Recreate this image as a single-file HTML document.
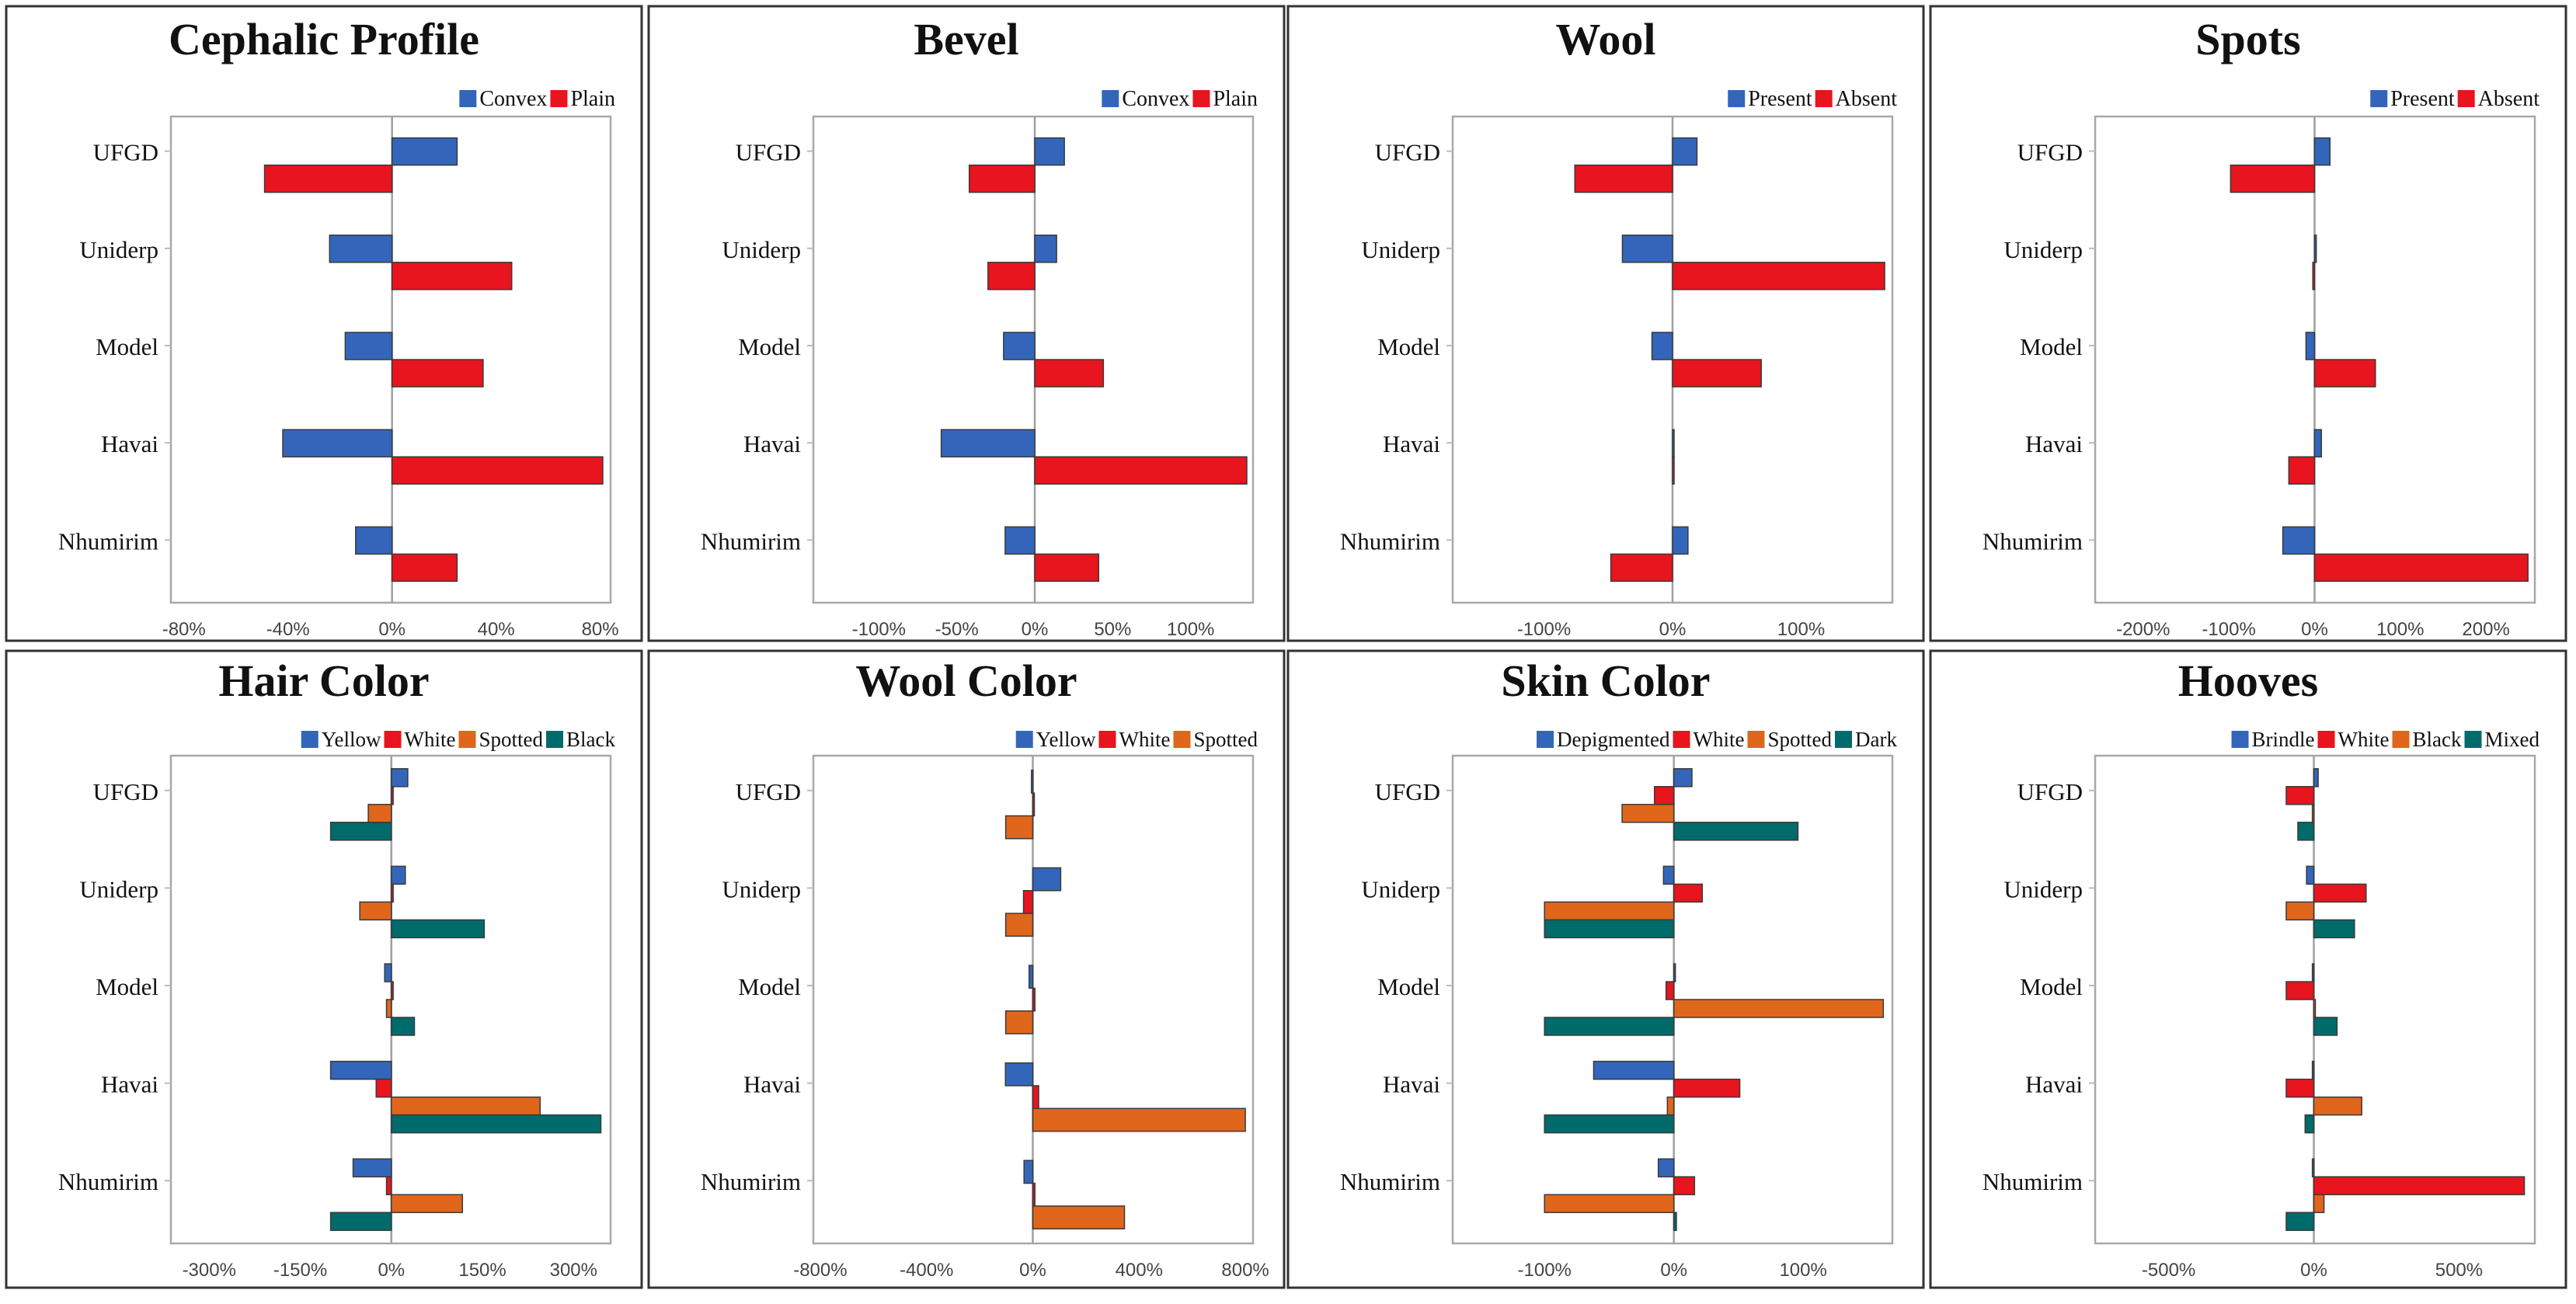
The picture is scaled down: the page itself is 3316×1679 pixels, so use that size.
<!DOCTYPE html>
<html><head><meta charset="utf-8"><style>
html,body{margin:0;padding:0;background:#fff;}
svg{display:block;}
</style></head><body>
<svg id="fig" xmlns="http://www.w3.org/2000/svg" width="3316" height="1679" viewBox="0 0 3316 1679"></svg>
<script>
const categories = ["UFGD","Uniderp","Model","Havai","Nhumirim"];
const colorBlue="#3366bb", colorRed="#e8141e", colorOrange="#e0661c", colorTeal="#006b6b";

const cephalicSeries = ["Convex","Plain"];
const cephalicConvex = [25,-24,-18,-42,-14];
const cephalicPlain = [-49,46,35,81,25];
const cephalicTicks = [-80,-40,0,40,80];

const bevelSeries = ["Convex","Plain"];
const bevelConvex = [19,14,-20,-60,-19];
const bevelPlain = [-42,-30,44,136,41];
const bevelTicks = [-100,-50,0,50,100];

const woolSeries = ["Present","Absent"];
const woolPresent = [19,-39,-16,0.5,12];
const woolAbsent = [-76,165,69,1,-48];
const woolTicks = [-100,0,100];

const spotsSeries = ["Present","Absent"];
const spotsPresent = [18,2,-10,8,-37];
const spotsAbsent = [-98,-2,71,-30,249];
const spotsTicks = [-200,-100,0,100,200];

const hairSeries = ["Yellow","White","Spotted","Black"];
const hairYellow = [27,23,-11,-100,-63];
const hairWhite = [3,3,3,-25,-8];
const hairSpotted = [-38,-52,-8,245,117];
const hairBlack = [-100,153,38,345,-100];
const hairTicks = [-300,-150,0,150,300];

const woolColorSeries = ["Yellow","White","Spotted"];
const woolColorYellow = [-5,105,-14,-103,-33];
const woolColorWhite = [0,-35,8,22,8];
const woolColorSpotted = [-102,-102,-102,800,345];
const woolColorTicks = [-800,-400,0,400,800];

const skinSeries = ["Depigmented","White","Spotted","Dark"];
const skinDepig = [14,-8,1,-62,-12];
const skinWhite = [-15,22,-6,51,16];
const skinSpotted = [-40,-100,162,-5,-100];
const skinDark = [96,-100,-100,-100,2];
const skinTicks = [-100,0,100];

const hoovesSeries = ["Brindle","White","Black","Mixed"];
const hoovesBrindle = [15,-25,-5,-5,-5];
const hoovesWhite = [-95,180,-95,-95,725];
const hoovesBlack = [-5,-95,2,165,35];
const hoovesMixed = [-55,140,80,-30,-95];
const hoovesTicks = [-500,0,500];

const panels = [
 {name:"cephalic-profile",title:"Cephalic Profile",x:8,y:8,row:0,dom:[-85,84],series:cephalicSeries,vals:[cephalicConvex,cephalicPlain],cols:[colorBlue,colorRed],ticks:cephalicTicks},
 {name:"bevel",title:"Bevel",x:835,y:8,row:0,dom:[-142,140],series:bevelSeries,vals:[bevelConvex,bevelPlain],cols:[colorBlue,colorRed],ticks:bevelTicks},
 {name:"wool",title:"Wool",x:1658,y:8,row:0,dom:[-171,171],series:woolSeries,vals:[woolPresent,woolAbsent],cols:[colorBlue,colorRed],ticks:woolTicks},
 {name:"spots",title:"Spots",x:2485,y:8,row:0,dom:[-256,257],series:spotsSeries,vals:[spotsPresent,spotsAbsent],cols:[colorBlue,colorRed],ticks:spotsTicks},
 {name:"hair-color",title:"Hair Color",x:8,y:838,row:1,dom:[-363,361],series:hairSeries,vals:[hairYellow,hairWhite,hairSpotted,hairBlack],cols:[colorBlue,colorRed,colorOrange,colorTeal],ticks:hairTicks},
 {name:"wool-color",title:"Wool Color",x:835,y:838,row:1,dom:[-826,829],series:woolColorSeries,vals:[woolColorYellow,woolColorWhite,woolColorSpotted],cols:[colorBlue,colorRed,colorOrange],ticks:woolColorTicks},
 {name:"skin-color",title:"Skin Color",x:1658,y:838,row:1,dom:[-171,169],series:skinSeries,vals:[skinDepig,skinWhite,skinSpotted,skinDark],cols:[colorBlue,colorRed,colorOrange,colorTeal],ticks:skinTicks},
 {name:"hooves",title:"Hooves",x:2485,y:838,row:1,dom:[-753,761],series:hoovesSeries,vals:[hoovesBrindle,hoovesWhite,hoovesBlack,hoovesMixed],cols:[colorBlue,colorRed,colorOrange,colorTeal],ticks:hoovesTicks}
];

const NS="http://www.w3.org/2000/svg";
const svg=document.getElementById("fig");
function mk(tag,attrs,parent){const e=document.createElementNS(NS,tag);for(const k in attrs)e.setAttribute(k,attrs[k]);parent.appendChild(e);return e;}

panels.forEach(p=>{
  const g=mk("g",{transform:`translate(${p.x},${p.y})`},svg);
  
  
  const W=818, H=p.row===0?817:820;
  const box=mk("rect",{x:0,y:0,width:W,height:H,fill:"#fff",stroke:"#333",'stroke-width':3},g);
  
  
  const t=mk("text",{x:W/2,y:p.row===0?62:58,'text-anchor':'middle','font-family':'"Liberation Serif",serif','font-weight':'bold','font-size':58,fill:'#111'},g);
  t.textContent=p.title;
  
  
  const L=212,R=778,T=p.row===0?142:135,B=p.row===0?768:763;
  const xs=v=>L+(v-p.dom[0])/(p.dom[1]-p.dom[0])*(R-L);
  const plot=mk("rect",{x:L,y:T,width:R-L,height:B-T,fill:"#fff",stroke:"#a8a8a8",'stroke-width':2.5},g);
  
  
  const zl=mk("line",{x1:xs(0),x2:xs(0),y1:T,y2:B,stroke:"#a0a0a0",'stroke-width':2.5},g);
  
  
  p.ticks.forEach(tv=>{
    const tl=mk("text",{x:xs(tv),y:B+42,'text-anchor':'middle','font-family':'"Liberation Sans",sans-serif','font-size':24,fill:'#444'},g);
    tl.textContent=tv+"%";
    
    
  });
  const band=(B-T)/5, ns=p.vals.length;
  const gh = ns===2?70:(ns===3?88:92);
  const bh=gh/ns;
  categories.forEach((c,i)=>{
    const cy=T+band*(i+0.5);
    const tk=mk("line",{x1:L-8,x2:L,y1:cy-18,y2:cy-18,stroke:"#bbb",'stroke-width':2},g);
    
    
    const cl=mk("text",{x:L-16,y:cy-6,'text-anchor':'end','font-family':'"Liberation Serif",serif','font-size':31,fill:'#111'},g);
    cl.textContent=c;
    
    
    p.vals.forEach((arr,s)=>{
      const v=arr[i];
      const x0=Math.min(xs(0),xs(v)), w=Math.max(Math.abs(xs(v)-xs(0)),2);
      const r=mk("rect",{x:x0,y:cy-gh/2+s*bh,width:w,height:bh,fill:p.cols[s],stroke:"#3a3a3a",'stroke-width':1.5},g);
      
      
    });
  });
  const ly=p.row===0?119:114;
  const lg=mk("g",{},g);
  
  
  let xr=R+6;
  const fs=p.series.length>2?27:28;
  for(let s=p.series.length-1;s>=0;s--){
    const lt=mk("text",{x:xr,y:ly+9,'text-anchor':'end','font-family':'"Liberation Serif",serif','font-size':fs,fill:'#111'},lg);
    lt.textContent=p.series[s];
    
    
    let tw=0;
    try{tw=lt.getComputedTextLength();}catch(e){tw=p.series[s].length*fs*0.5;}
    if(!tw) tw=p.series[s].length*fs*0.5;
    const sq=mk("rect",{x:xr-tw-26,y:ly-11,width:22,height:22,fill:p.cols[s]},lg);
    
    
    xr=xr-tw-30;
  }
});
</script>
</body></html>
